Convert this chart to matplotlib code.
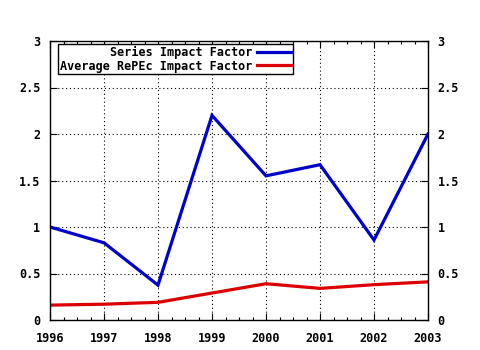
import matplotlib.pyplot as plt
import numpy as np
from matplotlib.ticker import MultipleLocator

years = [1996, 1997, 1998, 1999, 2000, 2001, 2002, 2003]
series_if = [1.0, 0.83, 0.375, 2.2, 1.55, 1.67, 0.86, 2.0]
repec_if = [0.16, 0.17, 0.19, 0.29, 0.39, 0.34, 0.38, 0.41]
yticks = [0, 0.5, 1, 1.5, 2, 2.5, 3]
ylabels = ['0', '0.5', '1', '1.5', '2', '2.5', '3']

plt.rcParams['font.family'] = 'DejaVu Sans Mono'
plt.rcParams['font.weight'] = 'bold'
plt.rcParams['font.size'] = 8.5

fig = plt.figure(figsize=(4.8, 3.5), dpi=100)
ax = fig.add_axes([50/480, 1-320/350, 378/480, 279/350])

ax.plot(years, series_if, color='#0000cc', lw=2.3, label='Series Impact Factor',
        solid_joinstyle='miter')
ax.plot(years, repec_if, color='#dd0000', lw=2.3, label='Average RePEc Impact Factor')

ax.set_xlim(1996, 2003)
ax.set_ylim(0, 3)
ax.set_xticks(years)
ax.set_xticklabels([str(y) for y in years])
ax.xaxis.set_minor_locator(MultipleLocator(0.25))
ax.set_yticks(yticks)
ax.set_yticklabels(ylabels)

ax.grid(True, color='black', ls=(0, (1, 2.5)), lw=0.8)
ax.tick_params(which='both', direction='in', top=True, right=True, labelright=True,
               colors='black', width=0.8)
ax.tick_params(which='major', length=5)
ax.tick_params(which='minor', length=2.5)
ax.tick_params(axis='x', pad=9)
ax.tick_params(axis='y', pad=7)
for s in ax.spines.values():
    s.set_linewidth(1)

leg = ax.legend(loc='upper left', bbox_to_anchor=(0.021, 0.989), borderaxespad=0,
                markerfirst=False, fancybox=False, framealpha=1, edgecolor='black',
                handlelength=2.9, handletextpad=0.4, labelspacing=0.05,
                borderpad=0.15)
leg.get_frame().set_linewidth(1)

fig.savefig('out.png', dpi=100)
